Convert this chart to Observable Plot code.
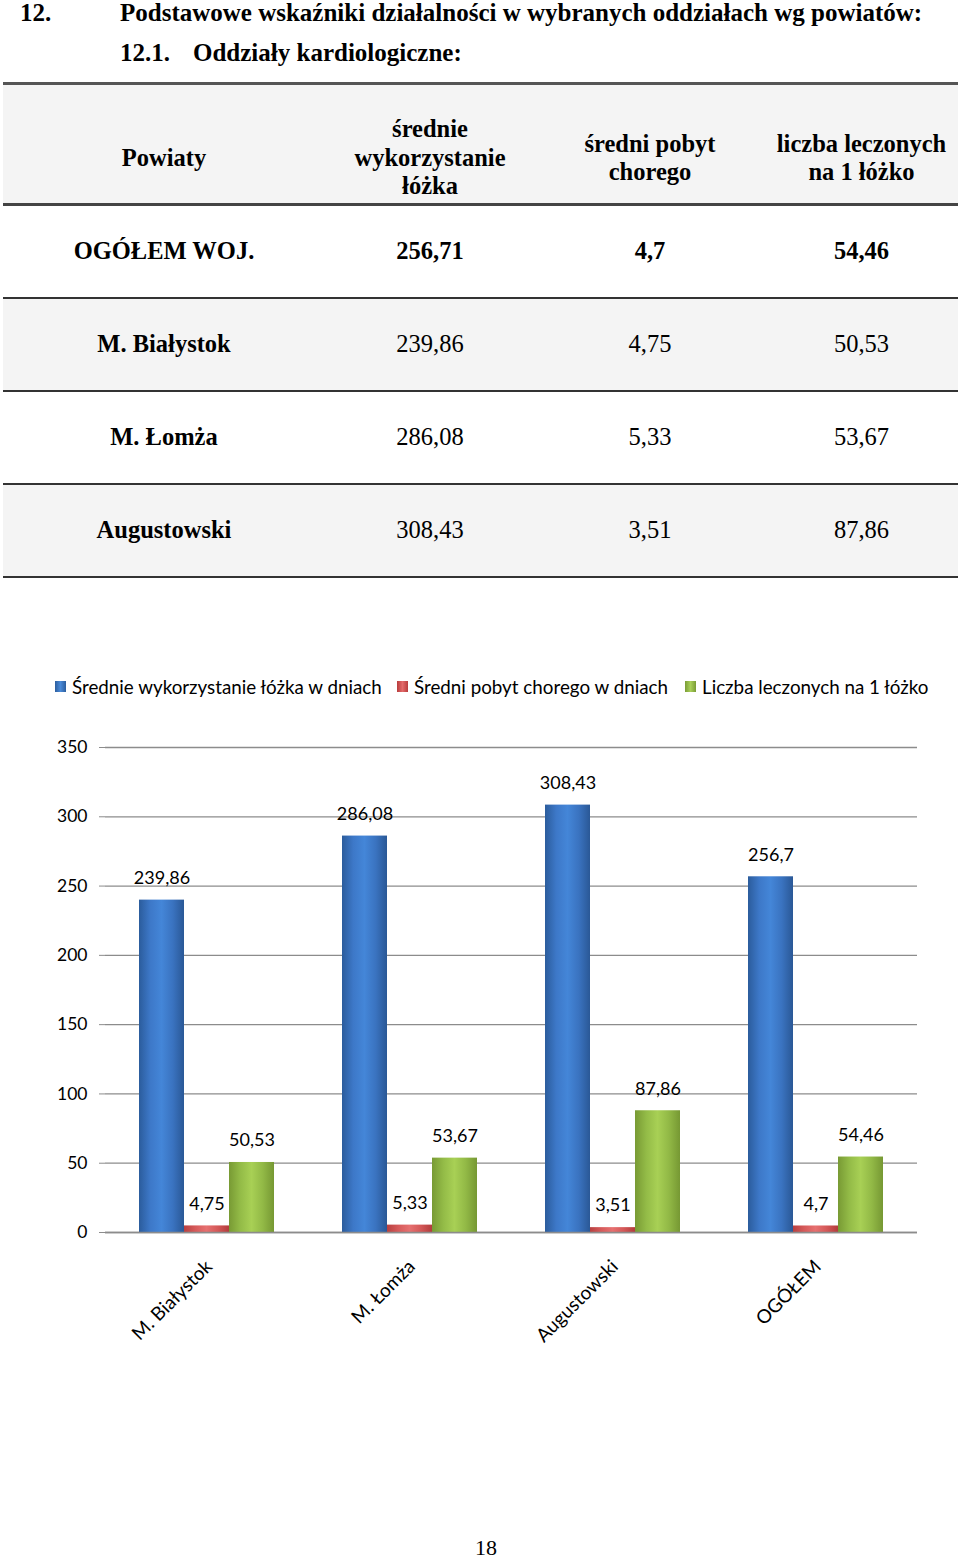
<!DOCTYPE html>
<html>
<head>
<meta charset="utf-8">
<script src="https://cdn.jsdelivr.net/npm/d3@7"></script>
<script src="https://cdn.jsdelivr.net/npm/@observablehq/plot@0.6"></script>
<style>
  html, body { margin: 0; padding: 0; background: #fff; }
  #page { position: relative; width: 960px; height: 1561px; overflow: hidden; font-family: "Liberation Serif", "Times New Roman", "DejaVu Serif", serif; color: #000; }
  .t { position: absolute; font-weight: bold; font-size: 25px; white-space: nowrap; line-height: 1; }
  table.tab { position: absolute; left: 3px; top: 82px; width: 955px; border-collapse: collapse; font-size: 24.5px; font-family: "Liberation Serif", "Times New Roman", serif; }
  table.tab td, table.tab th { text-align: center; padding: 0; font-family: "Liberation Serif", "Times New Roman", serif; }
  table.tab thead tr { background: #f4f4f4; height: 121px; border-top: 3px solid #555; border-bottom: 3px solid #444; }
  table.tab thead th { font-weight: bold; line-height: 28.5px; padding-top: 28px; }
  table.tab tbody tr { height: 93px; border-bottom: 2px solid #333; }
  table.tab tbody tr:nth-child(even) { background: #f4f4f4; }
  table.tab tbody td:first-child { font-weight: bold; }
  table.tab tbody tr.bold td { font-weight: bold; }
  #legend { position: absolute; top: 675px; left: 0; width: 960px; height: 26px; font-family: Lato, "Open Sans", sans-serif; font-size: 18.8px; }
  .li { position: absolute; top: 0; display: flex; align-items: center; white-space: nowrap; }
  .sw { width: 11px; height: 11px; margin-right: 6px; }
  #chart { position: absolute; left: 0; top: 730px; }
  #pnum { position: absolute; left: 446px; width: 80px; text-align: center; top: 1537px; font-size: 22px; line-height: 22px; height: 22px; }
</style>
</head>
<body>
<div id="page">
  <div class="t" style="left:20px; top:0px;">12.</div>
  <div class="t" id="title1" style="left:120px; top:0px;">Podstawowe wskaźniki działalności w wybranych oddziałach wg powiatów:</div>
  <div class="t" style="left:120px; top:40px;">12.1.</div>
  <div class="t" style="left:193px; top:40px;">Oddziały kardiologiczne:</div>
  <div id="tablehost"></div>
  <div id="legend"></div>
  <div id="chart"></div>
  <div id="pnum">18</div>
</div>
<script>
// ---- Table data ----
const tableHeaders = ["Powiaty", "średnie<br>wykorzystanie<br>łóżka", "średni pobyt<br>chorego", "liczba leczonych<br>na 1 łóżko"];
const tableRows = ["OGÓŁEM WOJ.", "M. Białystok", "M. Łomża", "Augustowski"];
const tableWykorzystanie = ["256,71", "239,86", "286,08", "308,43"];
const tablePobyt = ["4,7", "4,75", "5,33", "3,51"];
const tableLeczonych = ["54,46", "50,53", "53,67", "87,86"];

// ---- Chart data ----
const categories = ["M. Białystok", "M. Łomża", "Augustowski", "OGÓŁEM"];
const seriesNames = ["Średnie wykorzystanie łóżka w dniach", "Średni pobyt chorego w dniach", "Liczba leczonych na 1 łóżko"];
const wykorzystanie = [239.86, 286.08, 308.43, 256.7];
const pobyt = [4.75, 5.33, 3.51, 4.7];
const leczonych = [50.53, 53.67, 87.86, 54.46];
const yTicks = [0, 50, 100, 150, 200, 250, 300, 350];

// ---- Table ----
const colWidths = [322, 210, 230, 193];
let html = '<table class="tab"><colgroup>' + colWidths.map(w => `<col style="width:${w}px">`).join("") + '</colgroup><thead><tr>' +
  tableHeaders.map(h => `<th>${h}</th>`).join("") + '</tr></thead><tbody>';
tableRows.forEach((r, i) => {
  html += `<tr class="${i === 0 ? "bold" : ""}"><td>${r}</td><td>${tableWykorzystanie[i]}</td><td>${tablePobyt[i]}</td><td>${tableLeczonych[i]}</td></tr>`;
});
html += '</tbody></table>';
document.getElementById("tablehost").innerHTML = html;

// ---- Legend ----
const gradIds = ["gBlue", "gRed", "gGreen"];
const swatchCss = [
  "linear-gradient(90deg,#2c5e9e,#4a8ad8,#2c5e9e)",
  "linear-gradient(90deg,#b83c3c,#e36a6a,#b83c3c)",
  "linear-gradient(90deg,#7a9c36,#a9cf58,#7a9c36)"
];
const legendLeft = [55, 397, 685];
document.getElementById("legend").innerHTML = seriesNames.map((s, i) =>
  `<div class="li" style="left:${legendLeft[i]}px"><div class="sw" style="background:${swatchCss[i]}"></div><span>${s}</span></div>`).join("");

// ---- Chart ----
const data = [];
categories.forEach((c, i) => {
  data.push({cat: c, series: seriesNames[0], value: wykorzystanie[i]});
  data.push({cat: c, series: seriesNames[1], value: pobyt[i]});
  data.push({cat: c, series: seriesNames[2], value: leczonych[i]});
});
const fmt = v => String(v).replace(".", ",");

const W = 960, mL = 104, mR = 42, mT = 17, plotH = 485, mB = 130;
const facetW = (W - mL - mR) / categories.length;
const lblFont = "Lato, 'Open Sans', sans-serif";

const chart = Plot.plot({
  width: W,
  height: mT + plotH + mB,
  marginLeft: mL, marginRight: mR, marginTop: mT, marginBottom: mB,
  style: {fontFamily: lblFont, fontSize: "17.5px", color: "#000", background: "transparent"},
  fx: {domain: categories, padding: 0, label: null},
  x: {domain: seriesNames, paddingInner: 0, paddingOuter: 0.72, axis: null},
  y: {domain: [0, 350], label: null},
  color: {domain: seriesNames, range: gradIds.map(id => `url(#${id})`)},
  marks: [
    Plot.gridY(yTicks, {stroke: "#8c8c8c", strokeOpacity: 1, strokeWidth: 1.3}),
    Plot.axisY({ticks: yTicks, tickSize: 6, tickPadding: 12, stroke: "#8c8c8c", label: null, fontSize: 17.5}),
    Plot.ruleX([categories[0]], {fx: d => d, y1: 0, y2: 350, dx: -facetW / 2, stroke: "#8c8c8c", strokeWidth: 1.3}),
    Plot.barY(data, {fx: "cat", x: "series", y: "value", fill: "series"}),
    Plot.ruleY([0], {stroke: "#8c8c8c", strokeWidth: 1.3}),
    Plot.ruleX(categories, {fx: d => d, y1: 0, y2: 0, insetTop: -7, dx: -facetW / 2, stroke: "#8c8c8c", strokeWidth: 1.3}),
    Plot.ruleX([categories[categories.length - 1]], {fx: d => d, y1: 0, y2: 0, insetTop: -7, dx: facetW / 2, stroke: "#8c8c8c", strokeWidth: 1.3}),
    Plot.text(data, {fx: "cat", x: "series", y: "value", text: d => fmt(d.value), dy: -22, fontSize: 18, fill: "#000"}),
    Plot.axisFx({anchor: "bottom", tickSize: 0, tickPadding: 31, tickRotate: -45, textAnchor: "end", fontSize: 19, label: null, dx: 2})
  ]
});

// gradients
const defs = d3.select(chart).insert("defs", ":first-child");
const gradStops = [
  ["#2b5c9c", "#3d78c8", "#4486d8", "#3a73c0", "#2a5896"],
  ["#b84040", "#d65a5a", "#e67070", "#d45858", "#b23c3c"],
  ["#789a34", "#93bb47", "#a8d055", "#92b946", "#769833"]
];
gradIds.forEach((id, i) => {
  const g = defs.append("linearGradient").attr("id", id).attr("x1", "0").attr("x2", "1").attr("y1", "0").attr("y2", "0");
  gradStops[i].forEach((c, k) => g.append("stop").attr("offset", (k / (gradStops[i].length - 1))).attr("stop-color", c));
});
document.getElementById("chart").appendChild(chart);
</script>
</body>
</html>
